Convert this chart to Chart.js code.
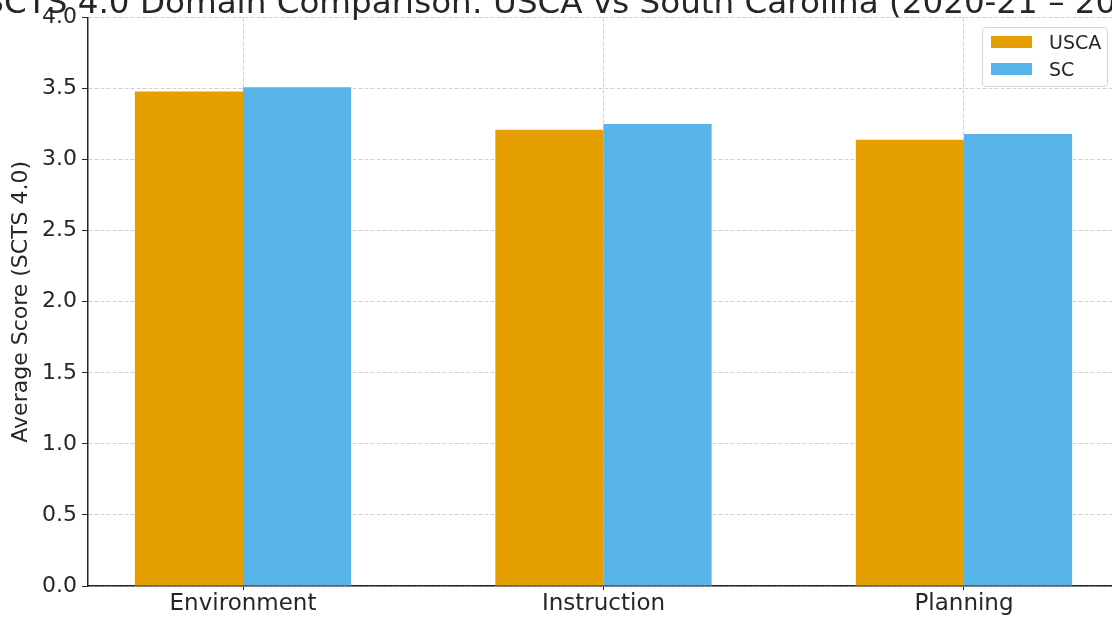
<!DOCTYPE html>
<html>
<head>
<meta charset="utf-8">
<script src="https://cdn.jsdelivr.net/npm/chart.js@4"></script>
<style>
  html, body { margin: 0; padding: 0; background: #fff; overflow: hidden; }
  body { width: 1112px; height: 617px; position: relative; }
  #wrap { position: absolute; left: -20px; top: -10px; width: 1247px; height: 640px; }
  #legenda {
    position: absolute; left: 982px; top: 27px; width: 124px; height: 58px;
    border: 1px solid #d6d6d6; border-radius: 4px; background: rgba(255,255,255,0.85);
    font-family: 'DejaVu Sans', sans-serif; font-size: 19px; color: #262626;
  }
  #legenda .item { position: absolute; left: 8px; height: 14px; display: flex; align-items: center; }
  #legenda .cor { width: 41px; height: 12px; margin-right: 17px; }
</style>
</head>
<body>
<div id="wrap"><canvas id="grafico"></canvas></div>
<div id="legenda"></div>
<script>
const categorias = ['Environment', 'Instruction', 'Planning'];
const usca = [3.48, 3.21, 3.14];
const sc = [3.51, 3.25, 3.18];
const yTicks = [0, 0.5, 1, 1.5, 2, 2.5, 3, 3.5, 4];

const fonte = "'DejaVu Sans', sans-serif";
const corTexto = '#262626';

const ctx = document.getElementById('grafico').getContext('2d');

const grafico = new Chart(ctx, {
  type: 'bar',
  data: {
    datasets: [{
      label: 'USCA',
      data: usca.map((v, i) => ({ x: i, y: v })),
      backgroundColor: '#E69F00',
      borderWidth: 0
    }, {
      label: 'SC',
      data: sc.map((v, i) => ({ x: i, y: v })),
      backgroundColor: '#56B4E9',
      borderWidth: 0
    }]
  },
  options: {
    responsive: true,
    maintainAspectRatio: false,
    animation: false,
    categoryPercentage: 0.6,
    barPercentage: 1.0,
    layout: { padding: 0 },
    plugins: {
      legend: { display: false },
      tooltip: { enabled: false },
      title: {
        display: true,
        text: 'SCTS 4.0 Domain Comparison: USCA vs South Carolina (2020-21 – 2024-25)',
        color: corTexto,
        font: { family: fonte, size: 32.6, weight: 'normal', lineHeight: 0.7 },
        padding: { top: 3.5, bottom: 1.2 }
      }
    },
    scales: {
      x: {
        type: 'linear',
        offset: false,
        min: -0.43,
        max: 2.43,
        afterBuildTicks: s => { s.ticks = categorias.map((_, i) => ({ value: i })); },
        afterFit: s => { s.height = 44; },
        ticks: {
          color: corTexto,
          font: { family: fonte, size: 23 },
          padding: 0,
          maxRotation: 0,
          autoSkip: false,
          callback: v => categorias[v]
        },
        grid: { offset: false, color: '#d0d0d0', lineWidth: 1, tickColor: '#262626', tickLength: 4, tickWidth: 1 },
        border: { display: true, color: '#262626', width: 1.5, dash: [4, 2] }
      },
      y: {
        min: 0,
        max: 4,
        afterBuildTicks: s => { s.ticks = yTicks.map(v => ({ value: v })); },
        afterFit: s => { s.width = 108; },
        ticks: {
          color: corTexto,
          font: { family: fonte, size: 22 },
          padding: 5,
          callback: v => v.toFixed(1)
        },
        title: {
          display: true,
          text: 'Average Score (SCTS 4.0)',
          color: corTexto,
          font: { family: fonte, size: 22 },
          padding: { top: 28, bottom: 0 }
        },
        grid: { color: '#d0d0d0', lineWidth: 1, tickColor: '#262626', tickLength: 6, tickWidth: 1 },
        border: { display: true, color: '#262626', width: 1.5, dash: [4, 2] }
      },
      direita: {
        type: 'linear',
        position: 'right',
        display: true,
        afterFit: s => { s.width = 108; },
        ticks: { display: false },
        grid: { display: false, drawOnChartArea: false, drawTicks: false },
        border: { display: false }
      }
    }
  }
});

// legenda em HTML a partir dos datasets
const legenda = document.getElementById('legenda');
grafico.data.datasets.forEach((ds, i) => {
  const item = document.createElement('div');
  item.className = 'item';
  item.style.top = (i === 0 ? 7 : 34) + 'px';
  item.innerHTML = `<span class="cor" style="background:${ds.backgroundColor}"></span><span>${ds.label}</span>`;
  legenda.appendChild(item);
});
</script>
</body>
</html>
